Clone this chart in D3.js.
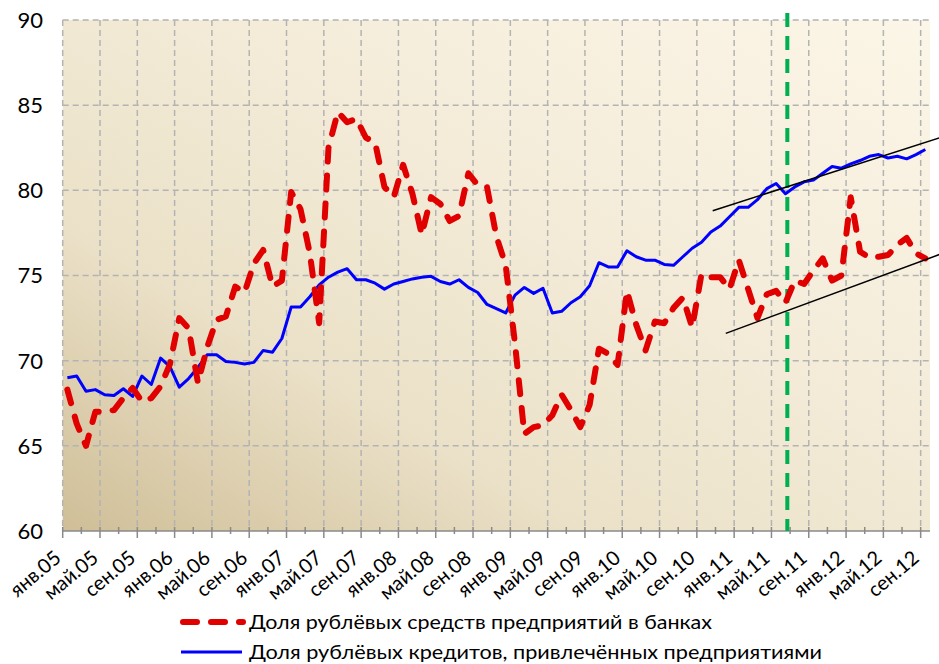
<!DOCTYPE html>
<html>
<head>
<meta charset="utf-8">
<script src="https://cdn.jsdelivr.net/npm/d3@7"></script>
<style>
  body { margin: 0; background: #fff; }
  text { font-family: Lato, "Open Sans", sans-serif; fill: #000; }
</style>
</head>
<body>
<div id="chart"></div>
<script>
// monthly values, янв.05 .. сен.12
const depositShare = [
  68.3, 66.3, 65.0, 67.0, 67.0, 67.1, 67.8, 68.4, 67.6, 67.8,
  68.5, 69.8, 72.5, 71.9, 68.7, 70.8, 72.4, 72.6, 74.35, 74.0,
  75.7, 76.5, 74.35, 74.7, 79.9, 78.9, 76.3, 72.2, 82.5, 84.6,
  84.0, 84.2, 83.1, 82.8, 80.2, 79.6, 81.5, 79.8, 77.4, 79.6,
  79.2, 78.2, 78.5, 81.0, 80.3, 80.2, 77.3, 75.6, 71.0, 65.7,
  66.1, 66.2, 66.8, 68.0, 67.1, 66.1, 67.4, 70.7, 70.4, 69.75,
  74.1, 72.1, 70.6, 72.3, 72.2, 73.1, 73.7, 71.95, 75.1, 74.9,
  74.9, 74.2, 75.9, 74.2, 72.5, 73.9, 74.1, 73.4, 74.7, 74.5,
  75.3, 76.0, 74.7, 75.0, 79.6, 76.4, 76.05, 76.1, 76.2, 76.8,
  77.2, 76.3, 76.0
];
const creditShare = [
  69.0, 69.1, 68.2, 68.3, 68.0, 67.95, 68.35, 67.9, 69.1, 68.6,
  70.15, 69.65, 68.45, 68.95, 69.6, 70.35, 70.35, 69.95, 69.9, 69.8,
  69.9, 70.6, 70.5, 71.3, 73.15, 73.15, 73.75, 74.45, 74.9, 75.2,
  75.4, 74.75, 74.75, 74.55, 74.2, 74.5, 74.65, 74.8, 74.9, 74.95,
  74.65, 74.5, 74.75, 74.3, 74.0, 73.3, 73.05, 72.8, 73.85, 74.3,
  73.95, 74.25, 72.8, 72.9, 73.4, 73.75, 74.4, 75.75, 75.5, 75.5,
  76.45, 76.1, 75.9, 75.9, 75.65, 75.6, 76.1, 76.6, 76.95, 77.55,
  77.9, 78.45, 79.0, 79.0, 79.45, 80.1, 80.4, 79.8, 80.2, 80.5,
  80.6, 81.0, 81.4, 81.3, 81.55, 81.75, 82.0, 82.1, 81.9, 82.0,
  81.85, 82.1, 82.4
];
const tickLabels = [
  "янв.05","май.05","сен.05","янв.06","май.06","сен.06","янв.07","май.07",
  "сен.07","янв.08","май.08","сен.08","янв.09","май.09","сен.09","янв.10",
  "май.10","сен.10","янв.11","май.11","сен.11","янв.12","май.12","сен.12"
];
const yTicks = [60, 65, 70, 75, 80, 85, 90];
const seriesNames = [
  "Доля рублёвых средств предприятий в банках",
  "Доля рублёвых кредитов, привлечённых предприятиями"
];
// hand-drawn trend lines: [category index, value]
const trendUpper = [[69.2, 78.8], [93.6, 83.1]];
const trendLower = [[70.6, 71.6], [93.6, 76.25]];
const markerMonth = 77.2;

const width = 939, height = 664;
const plotLeft = 62.7, plotRight = 930, plotTop = 20, plotBottom = 531;
const n = depositShare.length;

const svg = d3.select("#chart").append("svg")
  .attr("width", width).attr("height", height);

const x = d3.scaleLinear().domain([0, n]).range([plotLeft, plotRight]);
const y = d3.scaleLinear().domain([60, 90]).range([plotBottom, plotTop]);

/* background */
const defs = svg.append("defs");
const grad = defs.append("linearGradient").attr("id", "bg")
  .attr("x1", "0").attr("y1", "1").attr("x2", "1").attr("y2", "0");
grad.append("stop").attr("offset", "0").attr("stop-color", "#cfbe97");
grad.append("stop").attr("offset", "0.3").attr("stop-color", "#ebe1c8");
grad.append("stop").attr("offset", "0.6").attr("stop-color", "#f4ecd9");
grad.append("stop").attr("offset", "1").attr("stop-color", "#fcf6e8");

svg.append("rect")
  .attr("x", plotLeft).attr("y", plotTop)
  .attr("width", plotRight - plotLeft).attr("height", plotBottom - plotTop)
  .attr("fill", "url(#bg)");

/* grid */
const grid = svg.append("g")
  .attr("stroke", "#b3b3b3").attr("stroke-width", 1.5)
  .attr("stroke-dasharray", "6,4");
grid.selectAll(".hg").data(yTicks.filter(d => d > 60)).enter()
  .append("line")
  .attr("x1", plotLeft).attr("x2", plotRight)
  .attr("y1", d => y(d)).attr("y2", d => y(d));
grid.selectAll(".vg").data(d3.range(0, n, 4)).enter()
  .append("line")
  .attr("x1", d => x(d)).attr("x2", d => x(d))
  .attr("y1", plotTop).attr("y2", plotBottom);

/* x axis */
const axis = svg.append("g").attr("stroke", "#8a8a8a").attr("stroke-width", 1.5);
axis.append("line").attr("x1", plotLeft).attr("x2", plotRight)
  .attr("y1", plotBottom).attr("y2", plotBottom);
axis.selectAll(".tk").data(d3.range(0, n + 1, 2)).enter()
  .append("line")
  .attr("x1", d => x(d)).attr("x2", d => x(d))
  .attr("y1", plotBottom - 4)
  .attr("y2", d => d % 4 === 0 ? plotBottom + 7 : plotBottom + 3);

svg.append("g").selectAll("text").data(tickLabels).enter()
  .append("text")
  .attr("text-anchor", "end")
  .attr("font-size", 20)
  .attr("transform", (d, i) => `translate(${x(i * 4 + 0.5) - 5}, ${plotBottom + 29}) rotate(-40)`)
  .text(d => d);

/* y labels */
svg.append("g").selectAll("text").data(yTicks).enter()
  .append("text")
  .attr("x", 43).attr("y", d => y(d))
  .attr("dy", "0.36em")
  .attr("text-anchor", "end")
  .attr("font-size", 22)
  .text(d => d);

/* vertical marker */
svg.append("line")
  .attr("x1", x(markerMonth + 0.5)).attr("x2", x(markerMonth + 0.5))
  .attr("y1", 13).attr("y2", plotBottom)
  .attr("stroke", "#00b050").attr("stroke-width", 4)
  .attr("stroke-dasharray", "14,9");

/* series */
const line = d3.line()
  .x((d, i) => x(i + 0.5))
  .y(d => y(d));

svg.append("path")
  .attr("d", line(creditShare))
  .attr("fill", "none").attr("stroke", "#0000ff").attr("stroke-width", 3)
  .attr("stroke-linejoin", "round");

svg.append("path")
  .attr("d", line(depositShare))
  .attr("fill", "none").attr("stroke", "#e00000").attr("stroke-width", 6)
  .attr("stroke-dasharray", "14,14").attr("stroke-linecap", "round")
  .attr("stroke-linejoin", "round");

/* trend lines */
const tline = d3.line().x(d => x(d[0] + 0.5)).y(d => y(d[1]));
[trendUpper, trendLower].forEach(t => {
  svg.append("path").attr("d", tline(t))
    .attr("fill", "none").attr("stroke", "#000").attr("stroke-width", 1.5);
});

/* legend */
const legend = svg.append("g");
legend.append("line")
  .attr("x1", 183).attr("x2", 243).attr("y1", 622).attr("y2", 622)
  .attr("stroke", "#e00000").attr("stroke-width", 6)
  .attr("stroke-dasharray", "14,14").attr("stroke-linecap", "round");
legend.append("line")
  .attr("x1", 181).attr("x2", 242).attr("y1", 652).attr("y2", 652)
  .attr("stroke", "#0000ff").attr("stroke-width", 3);
legend.selectAll("text").data(seriesNames).enter()
  .append("text")
  .attr("x", 249).attr("y", (d, i) => 622 + i * 30)
  .attr("dy", "0.35em")
  .attr("font-size", 20)
  .attr("textLength", (d, i) => i === 0 ? 463 : 573)
  .attr("lengthAdjust", "spacingAndGlyphs")
  .text(d => d);
</script>
</body>
</html>
